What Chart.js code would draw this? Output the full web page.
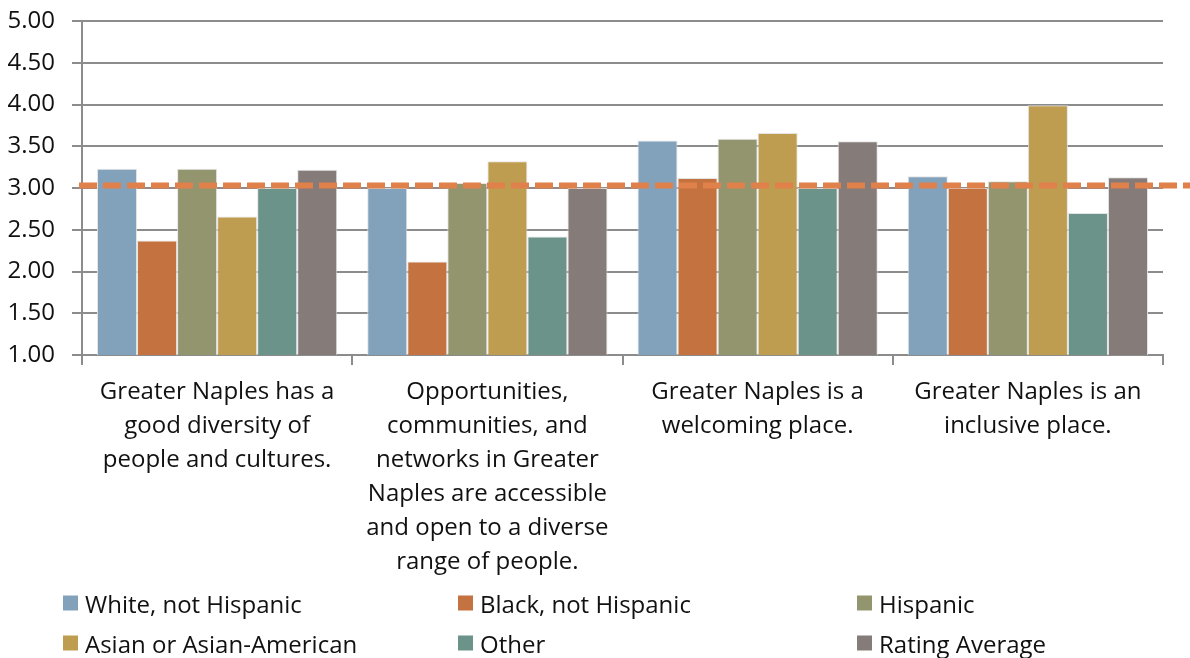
<!DOCTYPE html>
<html>
<head>
<meta charset="utf-8">
<script src="https://cdn.jsdelivr.net/npm/chart.js@4.4.1/dist/chart.umd.min.js"></script>
<style>
  html, body { margin: 0; padding: 0; background: #fff; }
  #wrap { position: relative; width: 1190px; height: 658px; }
  #chart { position: absolute; left: 0; top: 0; }
  #legend { position: absolute; left: 0; top: 0; width: 1190px; height: 658px; pointer-events: none;
            font-family: "Open Sans", "Noto Sans", sans-serif; font-size: 24px; color: #111; }
  .item { position: absolute; display: flex; align-items: center; white-space: nowrap; transform: translateY(-50%); }
  .box { width: 15px; height: 15px; margin-right: 7px; }
</style>
</head>
<body>
<div id="wrap">
  <canvas id="chart" width="1190" height="658"></canvas>
  <div id="legend"></div>
</div>
<script>
// Survey statements (category axis), wrapped into display lines
const statements = [
  ["Greater Naples has a", "good diversity of", "people and cultures."],
  ["Opportunities,", "communities, and", "networks in Greater", "Naples are accessible", "and open to a diverse", "range of people."],
  ["Greater Naples is a", "welcoming place."],
  ["Greater Naples is an", "inclusive place."]
];

// Mean agreement rating per respondent group
const groupNames = ["White, not Hispanic", "Black, not Hispanic", "Hispanic",
                    "Asian or Asian-American", "Other", "Rating Average"];
const whiteNotHispanic = [3.23, 3.00, 3.57, 3.14];
const blackNotHispanic = [2.37, 2.12, 3.12, 3.00];
const hispanic         = [3.23, 3.06, 3.59, 3.08];
const asianAmerican    = [2.66, 3.32, 3.66, 3.99];
const otherGroup       = [3.00, 2.42, 3.00, 2.70];
const ratingAverage    = [3.22, 3.00, 3.56, 3.13];

// Overall reference level drawn as a dashed line across the plot
const overallAverage = 3.03;

// Value axis ticks
const yTicks = [1.00, 1.50, 2.00, 2.50, 3.00, 3.50, 4.00, 4.50, 5.00];

const seriesValues = [whiteNotHispanic, blackNotHispanic, hispanic, asianAmerican, otherGroup, ratingAverage];
const seriesColors = ["#82A2BC", "#C4723F", "#93956F", "#BF9D50", "#6C9389", "#857B79"];

const FONT = "'Open Sans', 'Noto Sans', sans-serif";
const GRID = "#8c8c8c";
const TOP = 21;

const referenceLine = {
  id: "referenceLine",
  afterDatasetsDraw(chart) {
    const y = chart.scales.y.getPixelForValue(overallAverage);
    const ctx = chart.ctx;
    ctx.save();
    ctx.strokeStyle = "#E0804A";
    ctx.lineWidth = 6;
    ctx.setLineDash([18, 6]);
    ctx.beginPath();
    ctx.moveTo(chart.chartArea.left - 3, y);
    ctx.lineTo(chart.width, y);
    ctx.stroke();
    ctx.restore();
  }
};

const chart = new Chart(document.getElementById("chart"), {
  type: "bar",
  data: {
    labels: statements,
    datasets: groupNames.map((name, i) => ({
      label: name,
      data: seriesValues[i],
      backgroundColor: seriesColors[i],
      borderColor: "rgba(225,225,225,0.9)",
      borderWidth: 1,
      barPercentage: 1.0,
      categoryPercentage: 0.889
    }))
  },
  options: {
    responsive: false,
    animation: false,
    layout: { padding: { top: 0, right: 27, left: 0, bottom: 0 } },
    plugins: {
      legend: { display: false },
      tooltip: { enabled: false }
    },
    scales: {
      x: {
        offset: true,
        afterFit(scale) { scale.height = 303; },
        grid: { display: true, drawOnChartArea: false, drawTicks: true, tickLength: 10, color: GRID, lineWidth: 2 },
        border: { display: true, color: GRID, width: 2 },
        ticks: {
          autoSkip: false, maxRotation: 0, minRotation: 0, padding: 10,
          color: "#111",
          font: { family: FONT, size: 24, lineHeight: 1.42 }
        }
      },
      y: {
        min: 1, max: 5,
        afterFit(scale) { scale.width = 82; scale.paddingTop = TOP; },
        afterBuildTicks(scale) { scale.ticks = yTicks.map(v => ({ value: v })); },
        grid: { color: GRID, lineWidth: 2, tickLength: 10, drawTicks: true },
        border: { display: true, color: GRID, width: 2 },
        ticks: {
          padding: 17,
          color: "#111",
          font: { family: FONT, size: 24 },
          callback: v => Number(v).toFixed(2)
        }
      }
    }
  },
  plugins: [referenceLine]
});

// Three-column legend below the chart, built from the chart's datasets
const legendEl = document.getElementById("legend");
const colX = [63, 458, 857];
const rowY = [603, 643];
chart.data.datasets.forEach((ds, i) => {
  const item = document.createElement("div");
  item.className = "item";
  item.style.left = colX[i % 3] + "px";
  item.style.top = rowY[Math.floor(i / 3)] + "px";
  const box = document.createElement("span");
  box.className = "box";
  box.style.background = ds.backgroundColor;
  const text = document.createElement("span");
  text.textContent = ds.label;
  item.appendChild(box);
  item.appendChild(text);
  legendEl.appendChild(item);
});
</script>
</body>
</html>
